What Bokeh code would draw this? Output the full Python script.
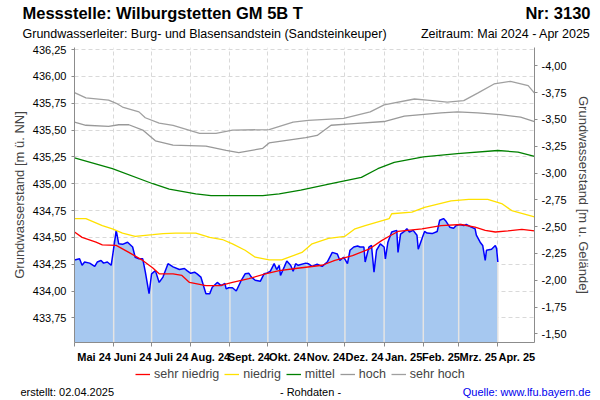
import numpy as np
import pandas as pd
from bokeh.plotting import figure
from bokeh.layouts import column
from bokeh.models import (Range1d, LinearAxis, FixedTicker, CustomJSTickFormatter,
                          Label, Legend, LegendItem)
from bokeh.embed import file_html
from bokeh.resources import INLINE

FONT = "Liberation Sans"

# ---------------- data ----------------
START = "2024-05-01"   # day 0 of the x axis
END = "2025-04-30"
month_starts = ["2024-05-01", "2024-06-01", "2024-07-01", "2024-08-01", "2024-09-01",
                "2024-10-01", "2024-11-01", "2024-12-01", "2025-01-01", "2025-02-01",
                "2025-03-01", "2025-04-01", "2025-05-01"]
month_labels = ["Mai 24", "Juni 24", "Juli 24", "Aug. 24", "Sept. 24", "Okt. 24",
                "Nov. 24", "Dez. 24", "Jan. 25", "Feb. 25", "Mrz. 25", "Apr. 25"]

left_ticks = [433.75, 434.00, 434.25, 434.50, 434.75, 435.00, 435.25, 435.50,
              435.75, 436.00, 436.25]
right_ticks = [-4.00, -3.75, -3.50, -3.25, -3.00, -2.75, -2.50, -2.25, -2.00,
               -1.75, -1.50]
GROUND = 432.10   # m ü. NN, reference for the right axis

legend_labels = ["sehr niedrig", "niedrig", "mittel", "hoch", "sehr hoch"]

# measured level (days since START, m ü. NN)
level_day = [0, 4, 6, 8, 12, 16, 18, 21, 23, 26,
             29, 30, 33, 35, 38, 42, 46, 48, 51, 54,
             56, 59, 61, 64, 67, 70, 74, 78, 83, 87,
             89, 92, 95, 97, 100, 104, 107, 109, 113, 116,
             119, 120, 122, 125, 128, 132, 135, 138, 140, 143,
             147, 150, 152, 155, 158, 160, 162, 163, 166, 168,
             171, 173, 175, 177, 183, 185, 188, 192, 196, 200,
             204, 208, 210, 213, 216, 218, 221, 224, 226, 229,
             230, 233, 235, 237, 239, 242, 245, 246, 248, 251,
             255, 256, 258, 261, 263, 265, 268, 271, 272, 275,
             277, 279, 283, 287, 289, 292, 294, 297, 300, 302,
             305, 308, 310, 314, 317, 318, 321, 323, 325, 326,
             330, 333, 334, 335]
level = [434.29, 434.30, 434.24, 434.27, 434.26, 434.23, 434.27, 434.285, 434.26, 434.27,
         434.24, 434.315, 434.565, 434.44, 434.435, 434.455, 434.41, 434.315, 434.30, 434.30,
         434.18, 433.975, 434.16, 434.19, 434.08, 434.13, 434.255, 434.225, 434.20, 434.21,
         434.19, 434.165, 434.175, 434.16, 434.13, 433.975, 433.975, 434.035, 434.08, 434.05,
         434.07, 434.02, 434.03, 434.03, 434.00, 434.10, 434.16, 434.165, 434.13, 434.10,
         434.09, 434.16, 434.165, 434.185, 434.255, 434.20, 434.24, 434.145, 434.225, 434.28,
         434.24, 434.185, 434.255, 434.24, 434.26, 434.255, 434.23, 434.25, 434.23, 434.27,
         434.36, 434.345, 434.285, 434.315, 434.255, 434.38, 434.41, 434.42, 434.41, 434.41,
         434.27, 434.41, 434.425, 434.175, 434.38, 434.44, 434.41, 434.30, 434.455, 434.55,
         434.565, 434.36, 434.53, 434.555, 434.58, 434.55, 434.565, 434.52, 434.39, 434.49,
         434.555, 434.54, 434.535, 434.555, 434.66, 434.675, 434.65, 434.595, 434.585, 434.61,
         434.62, 434.61, 434.62, 434.595, 434.58, 434.52, 434.455, 434.425, 434.285, 434.38,
         434.39, 434.425, 434.395, 434.27]

sehr_niedrig_day = [0, 6, 17, 22, 33, 43, 54, 62, 67, 78,
                    85, 91, 104, 115, 125, 138, 151, 162, 175, 196,
                    206, 220, 233, 243, 249, 256, 275, 290, 306, 317,
                    325, 333, 343, 354, 364]
sehr_niedrig = [434.55, 434.50, 434.455, 434.43, 434.425, 434.36, 434.285, 434.215, 434.16, 434.16,
                434.145, 434.08, 434.05, 434.05, 434.08, 434.115, 434.16, 434.19, 434.21, 434.24,
                434.285, 434.33, 434.39, 434.47, 434.51, 434.555, 434.58, 434.61, 434.62, 434.595,
                434.565, 434.55, 434.56, 434.575, 434.56]

niedrig_day = [0, 9, 22, 30, 38, 48, 62, 70, 80, 96,
               107, 117, 125, 135, 143, 154, 164, 180, 188, 201,
               214, 222, 230, 249, 251, 267, 277, 298, 312, 327,
               338, 346, 364]
niedrig = [434.675, 434.675, 434.61, 434.58, 434.54, 434.51, 434.525, 434.535, 434.54, 434.54,
           434.50, 434.48, 434.44, 434.38, 434.315, 434.29, 434.29, 434.36, 434.44, 434.49,
           434.51, 434.58, 434.61, 434.675, 434.72, 434.735, 434.78, 434.84, 434.855, 434.855,
           434.815, 434.75, 434.69]

mittel_day = [0, 30, 62, 75, 96, 108, 149, 162, 179, 205,
              227, 240, 253, 276, 303, 335, 351, 364]
mittel = [435.24, 435.14, 435.00, 434.95, 434.905, 434.89, 434.89, 434.905, 434.94, 435.005,
          435.06, 435.14, 435.20, 435.25, 435.28, 435.31, 435.295, 435.255]

hoch_day = [0, 9, 27, 35, 43, 54, 64, 78, 104, 120,
            130, 149, 154, 183, 192, 203, 221, 245, 261, 290,
            303, 319, 337, 353, 364]
hoch = [435.575, 435.545, 435.535, 435.55, 435.55, 435.50, 435.40, 435.36, 435.35, 435.31,
        435.29, 435.33, 435.38, 435.43, 435.45, 435.545, 435.56, 435.58, 435.63, 435.66,
        435.67, 435.66, 435.645, 435.62, 435.58]

sehr_hoch_day = [0, 9, 27, 33, 38, 51, 56, 67, 78, 99,
                 112, 125, 154, 173, 185, 213, 234, 245, 269, 279,
                 295, 308, 319, 332, 345, 359, 364]
sehr_hoch = [435.85, 435.80, 435.78, 435.75, 435.715, 435.67, 435.615, 435.565, 435.545, 435.47,
             435.47, 435.50, 435.505, 435.575, 435.59, 435.61, 435.67, 435.735, 435.79, 435.78,
             435.76, 435.775, 435.845, 435.93, 435.955, 435.915, 435.845]

# ---------------- styles ----------------
COL_SN, COL_N, COL_M, COL_H, COL_SH = "#ff0000", "#ffe100", "#008000", "#999999", "#a0a0a0"
AXIS_COL = "#8c8c8c"
GRID_COL = "#d9d9d9"
W = 600

# ---------------- derived positions ----------------
t0 = pd.Timestamp(START)
month_days = [(pd.Timestamp(d) - t0).days for d in month_starts]
mid_days = [(a + b) / 2 for a, b in zip(month_days[:-1], month_days[1:])]

Y0, Y1 = 433.52, 436.27
X0, X1 = 0, (pd.Timestamp(END) - t0).days

series = [(sehr_niedrig_day, sehr_niedrig, COL_SN), (niedrig_day, niedrig, COL_N),
          (mittel_day, mittel, COL_M), (hoch_day, hoch, COL_H),
          (sehr_hoch_day, sehr_hoch, COL_SH)]


def blank_fig(h):
    f = figure(width=W, height=h, output_backend="svg", toolbar_location=None,
               title=None, x_axis_location=None, y_axis_location=None,
               x_range=Range1d(0, W), y_range=Range1d(0, h),
               min_border_left=0, min_border_right=0, min_border_top=0,
               min_border_bottom=0, frame_align=False)
    f.grid.visible = False
    f.outline_line_color = None
    f.background_fill_color = "white"
    f.border_fill_color = "white"
    return f


def add_text(f, txt, x, y, size, style="normal", align="left", color="black"):
    f.add_layout(Label(x=x, y=y, x_units="screen", y_units="screen", text=txt,
                       text_font=FONT, text_font_size=size, text_font_style=style,
                       text_align=align, text_baseline="middle", text_color=color))


# ---------------- header ----------------
H_HEAD = 42
head = blank_fig(H_HEAD)
add_text(head, "Messstelle: Wilburgstetten GM 5B T", 22, 30, "16.5px", "bold")
add_text(head, "Nr: 3130", 590, 30, "16.5px", "bold", "right")
add_text(head, "Grundwasserleiter:   Burg- und Blasensandstein (Sandsteinkeuper)", 22, 9, "12.5px")
add_text(head, "Zeitraum: Mai 2024 - Apr 2025", 590, 9, "12.5px", align="right")

# ---------------- main chart ----------------
H_MAIN = 323
p = figure(width=W, height=H_MAIN, output_backend="svg", toolbar_location=None,
           title=None, x_range=Range1d(X0, X1), y_range=Range1d(Y0, Y1),
           min_border_left=74, min_border_right=66, min_border_top=5,
           min_border_bottom=20, frame_align=False)
p.outline_line_color = None
p.background_fill_color = "white"
p.border_fill_color = "white"

xa = p.xaxis[0]
xa.ticker = FixedTicker(ticks=mid_days, minor_ticks=month_days)
xa.major_label_overrides = {m: lab for m, lab in zip(mid_days, month_labels)}
xa.major_tick_out = 0
xa.major_tick_in = 0
xa.minor_tick_out = 4
xa.minor_tick_in = 0
xa.minor_tick_line_color = AXIS_COL
xa.axis_line_color = AXIS_COL
xa.major_label_standoff = 4
xa.major_label_text_font = FONT
xa.major_label_text_font_size = "11px"
xa.major_label_text_font_style = "bold"
xa.major_label_text_color = "black"

p.xgrid.ticker = FixedTicker(ticks=month_days)
p.xgrid.grid_line_color = GRID_COL
p.xgrid.grid_line_dash = "4 3"

ya = p.yaxis[0]
ya.ticker = FixedTicker(ticks=left_ticks)
ya.formatter = CustomJSTickFormatter(code="return tick.toFixed(2).replace('.', ',');")
ya.axis_label = "Grundwasserstand [m ü. NN]"
ya.axis_label_text_font = FONT
ya.axis_label_text_font_size = "13px"
ya.axis_label_text_font_style = "normal"
ya.axis_label_standoff = 3
ya.major_label_text_font = FONT
ya.major_label_text_font_size = "11px"
ya.major_label_text_color = "black"
ya.major_label_standoff = 5
ya.major_tick_out = 3
ya.major_tick_in = 0
ya.minor_tick_out = 0
ya.minor_tick_in = 0
ya.major_tick_line_color = AXIS_COL
ya.axis_line_color = AXIS_COL

p.ygrid.ticker = FixedTicker(ticks=left_ticks)
p.ygrid.grid_line_color = GRID_COL
p.ygrid.grid_line_dash = "4 3"

p.extra_y_ranges = {"depth": Range1d(start=GROUND - Y0, end=GROUND - Y1)}
ra = LinearAxis(y_range_name="depth", ticker=FixedTicker(ticks=right_ticks),
                formatter=CustomJSTickFormatter(code="return tick.toFixed(2).replace('.', ',');"),
                axis_label="Grundwasserstand [m u. Gelände]")
ra.axis_label_text_font = FONT
ra.axis_label_text_font_size = "13px"
ra.axis_label_text_font_style = "normal"
ra.axis_label_standoff = 6
ra.major_label_text_font = FONT
ra.major_label_text_font_size = "11px"
ra.major_label_text_color = "black"
ra.major_label_standoff = 4
ra.major_tick_out = 3
ra.major_tick_in = 0
ra.minor_tick_out = 0
ra.minor_tick_in = 0
ra.major_tick_line_color = AXIS_COL
ra.axis_line_color = AXIS_COL
p.add_layout(ra, "right")

p.varea(x=level_day, y1=Y0, y2=level, fill_color="#a6c8f0")
inner = month_days[1:-1]
p.segment(x0=inner, y0=Y0, x1=inner, y1=np.interp(inner, level_day, level),
          line_color="#e4e4e4", line_width=1.5)
p.line(level_day, level, line_color="#0000ff", line_width=1.5)
for xs, ys, col in series:
    p.line(xs, ys, line_color=col, line_width=1.3)

# ---------------- footer: legend + source line ----------------
H_FOOT = 400 - H_HEAD - H_MAIN
foot = blank_fig(H_FOOT)
# the same series in the footer (their values lie far outside its 0..H range,
# so only their legend glyphs show)
items = []
for lab, (xs, ys, col) in zip(legend_labels, series):
    r = foot.line(xs, ys, line_color=col, line_width=1.3)
    items.append(LegendItem(label=lab, renderers=[r]))
legend = Legend(items=items, orientation="horizontal", location=(135, 19),
                label_text_font=FONT, label_text_font_size="12.5px",
                glyph_width=15, glyph_height=14, label_height=14,
                label_standoff=4, spacing=5, padding=0, margin=0,
                border_line_color=None, background_fill_alpha=0)
foot.add_layout(legend)
add_text(foot, "erstellt:  02.04.2025", 20, 9, "11px")
add_text(foot, "- Rohdaten -", 310, 9, "11px", align="center")
add_text(foot, "Quelle: www.lfu.bayern.de", 590, 9, "11px", align="right", color="#0000ee")

layout = column(head, p, foot, spacing=0)
open("out.html", "w").write(file_html(layout, INLINE))
